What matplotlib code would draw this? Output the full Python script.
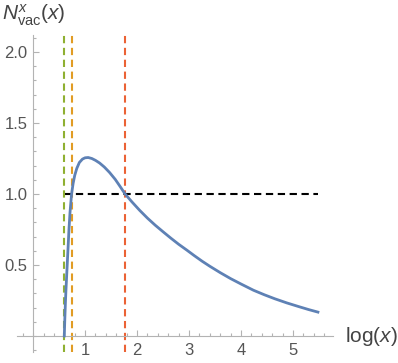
import numpy as np
import matplotlib
matplotlib.use("Agg")
import matplotlib.pyplot as plt
from matplotlib.ticker import MultipleLocator

plt.rcParams['font.family'] = ['Liberation Sans', 'DejaVu Sans']
plt.rcParams['mathtext.fontset'] = 'custom'
plt.rcParams['mathtext.rm'] = 'Liberation Sans'
plt.rcParams['mathtext.it'] = 'Liberation Sans:italic'

# --------------------------------
# Datos
# --------------------------------
log_x = [0.600, 0.610, 0.620, 0.630, 0.645, 0.660, 0.675, 0.690, 0.710, 0.740,
         0.770, 0.800, 0.840, 0.890, 0.950, 1.000, 1.060, 1.130, 1.200, 1.280,
         1.370, 1.470, 1.580, 1.670, 1.770, 1.900, 2.050, 2.200, 2.350, 2.500,
         2.650, 2.800, 2.960, 3.100, 3.250, 3.400, 3.600, 3.800, 4.000, 4.240,
         4.450, 4.650, 4.880, 5.100, 5.300, 5.480]
n_vac = [0.000, 0.120, 0.220, 0.310, 0.420, 0.530, 0.640, 0.750, 0.870, 1.000,
         1.075, 1.130, 1.180, 1.222, 1.246, 1.255, 1.257, 1.250, 1.237, 1.218,
         1.190, 1.152, 1.103, 1.055, 1.000, 0.945, 0.885, 0.830, 0.780, 0.734,
         0.689, 0.646, 0.604, 0.566, 0.527, 0.491, 0.446, 0.404, 0.366, 0.322,
         0.290, 0.262, 0.233, 0.208, 0.186, 0.168]

v_lines = [0.596, 0.744, 1.77]
v_colors = ['#8FB032', '#E19C24', '#EB6235']
h_level = 1.0
h_span = [0.60, 5.48]

x_ticks = [1, 2, 3, 4, 5]
y_ticks = [0.5, 1.0, 1.5, 2.0]

# --------------------------------
# Figura
# --------------------------------
fig = plt.figure(figsize=(3.98, 3.63), dpi=100)
ax = fig.add_axes([17 / 398, 1 - 352 / 363, (333 - 17) / 398, (352 - 35) / 363])

ax.plot(log_x, n_vac, color='#5E81B5', lw=2.0, zorder=3)
ax.plot(h_span, [h_level, h_level], color='black', ls=(0, (3.5, 2.2)), lw=1.5, zorder=2)
for xv, c in zip(v_lines, v_colors):
    ax.axvline(xv, color=c, ls=(0, (3.5, 2.2)), lw=1.5, zorder=2)

ax.set_xlim(-0.31, 5.77)
ax.set_ylim(-0.113, 2.12)

# ejes en el origen, estilo Mathematica
ax.spines['left'].set_position(('data', 0))
ax.spines['bottom'].set_position(('data', 0))
ax.spines['right'].set_visible(False)
ax.spines['top'].set_visible(False)
for s in ['left', 'bottom']:
    ax.spines[s].set_color('#b3b3b3')
    ax.spines[s].set_linewidth(0.8)

ax.set_xticks(x_ticks)
ax.set_yticks(y_ticks)
ax.set_yticklabels(['%.1f' % v for v in y_ticks])
ax.xaxis.set_minor_locator(MultipleLocator(0.2))
ax.yaxis.set_minor_locator(MultipleLocator(0.1))
ax.tick_params(which='both', direction='in', color='#b3b3b3', width=0.8,
               labelcolor='#555555', labelsize=12)
ax.tick_params(which='major', length=4)
ax.tick_params(which='minor', length=2.5)
ax.tick_params(axis='x', pad=5)
ax.tick_params(axis='y', pad=4)

fig.text(345 / 398, 1 - 336 / 363, r'log($x$)', fontsize=15, color='#444444',
         ha='left', va='center')
fig.text(2 / 398, 1 - 15 / 363, r'$N^{x}_{\mathrm{vac}}(x)$', fontsize=15,
         color='#444444', ha='left', va='center')

fig.savefig('out.png', dpi=100)
